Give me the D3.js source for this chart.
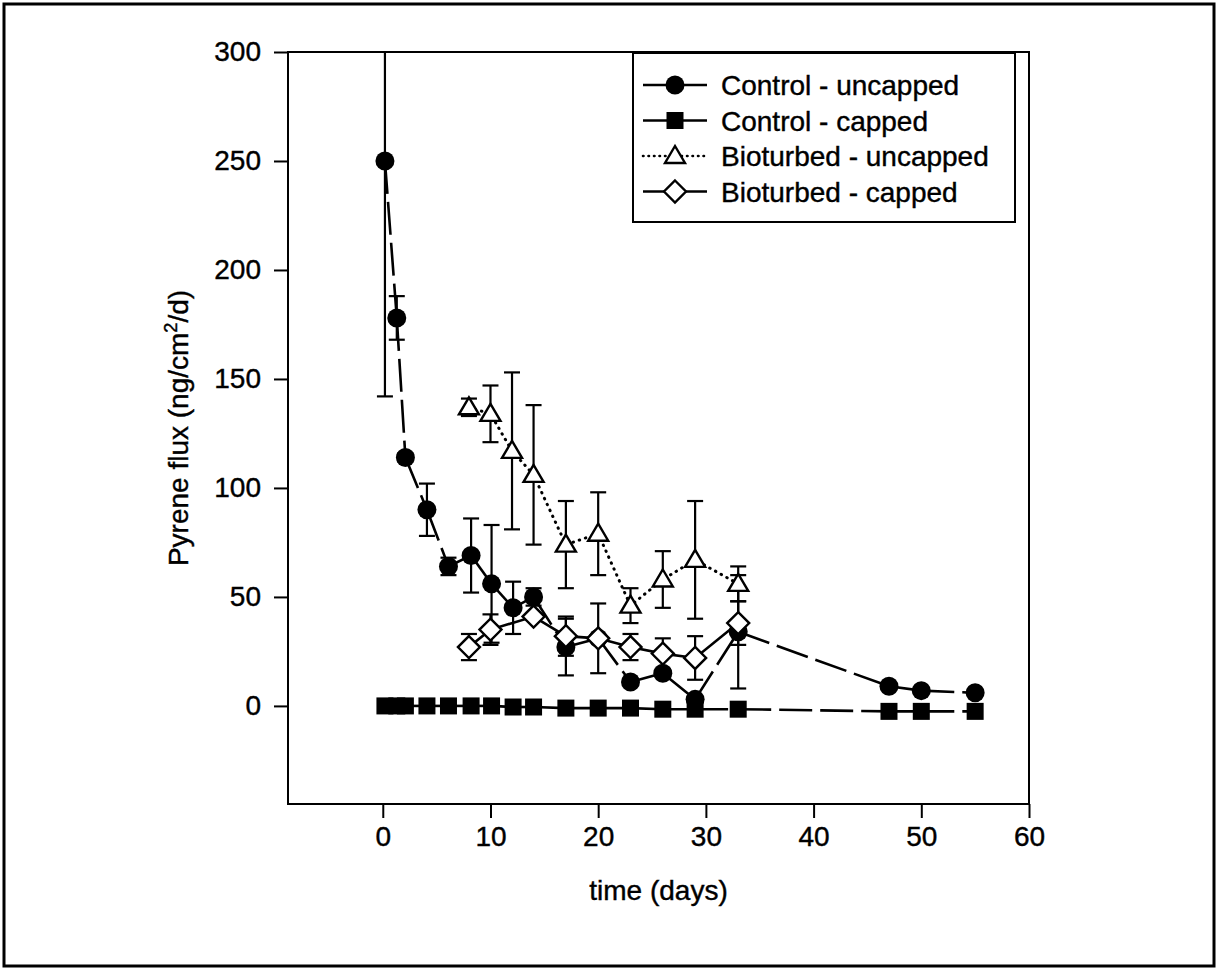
<!DOCTYPE html>
<html>
<head>
<meta charset="utf-8">
<script src="https://cdn.jsdelivr.net/npm/d3@7"></script>
<style>
  body { margin: 0; background: #fff; }
  svg { display: block; }
  text { font-family: "Liberation Sans", Arial, sans-serif; fill: #000; }
</style>
</head>
<body>
<svg id="chart" width="1219" height="972"></svg>
<script>
// Data
const ctrlUncapDays = [0.2, 1.3, 2.1, 4.1, 6.1, 8.2, 10.1, 12.1, 14, 17, 20, 23, 26, 29, 33, 47, 50, 55];
const ctrlUncapFlux = [250, 178, 114, 90, 64, 69, 56, 45, 50, 27, 31, 11, 15, 3, 34, 9, 7, 6];
const ctrlUncapErr = [108, 10, 2, 12, 4, 17, 27, 12, 4, 13, 16, 0, 0, 0, 26, 0, 0, 0];

const ctrlCapDays = [0.2, 1.3, 2.1, 4.1, 6.1, 8.2, 10.1, 12.1, 14, 17, 20, 23, 26, 29, 33, 47, 50, 55];
const ctrlCapFlux = [0, 0, 0, 0, 0, 0, 0, -0.5, -0.5, -1, -1, -1, -1.5, -1.5, -1.5, -2.5, -2.5, -2.5];

const bioUncapDays = [8, 10, 12, 14, 17, 20, 23, 26, 29, 33];
const bioUncapFlux = [137, 134, 117, 106, 74, 79, 46, 58, 67, 56];
const bioUncapErr = [4, 13, 36, 32, 20, 19, 8, 13, 27, 8];

const bioCapDays = [8, 10, 14, 17, 20, 23, 26, 29, 33];
const bioCapFlux = [27, 35, 41, 32, 31, 27, 24, 22, 38];
const bioCapErr = [6, 7, 0, 9, 0, 6, 7, 10, 10];

const xTicks = [0, 10, 20, 30, 40, 50, 60];
const yTicks = [0, 50, 100, 150, 200, 250, 300];
const legendLabels = ["Control - uncapped", "Control - capped", "Bioturbed - uncapped", "Bioturbed - capped"];

// Layout
let frame = { left: 288, right: 1029, top: 52, bottom: 804 },
  fontSize = 28,
  tickLen = 14,
  lineWidth = 2.2;

const svg = d3.select("#chart");

// outer border of the scanned page
svg.append("rect")
  .attr("x", 4).attr("y", 4)
  .attr("width", 1210).attr("height", 962)
  .attr("fill", "none").attr("stroke", "#000").attr("stroke-width", 3);

const x = d3.scaleLinear().domain([-8.8, 60]).range([frame.left, frame.right]);
const y = d3.scaleLinear().domain([-45, 300]).range([frame.bottom, frame.top]);

// clip so the big error bar stops at the frame
svg.append("clipPath").attr("id", "plotClip")
  .append("rect")
  .attr("x", frame.left).attr("y", frame.top)
  .attr("width", frame.right - frame.left).attr("height", frame.bottom - frame.top);

// Axes
const xAxis = d3.axisBottom(x).tickValues(xTicks).tickSize(tickLen).tickPadding(8);
const yAxis = d3.axisLeft(y).tickValues(yTicks).tickSize(tickLen).tickPadding(13);

const gx = svg.append("g").attr("transform", "translate(0," + frame.bottom + ")").call(xAxis);
const gy = svg.append("g").attr("transform", "translate(" + frame.left + ",0)").call(yAxis);

[gx, gy].forEach(g => {
  g.select(".domain").remove();
  g.selectAll("line").attr("stroke", "#000").attr("stroke-width", 2);
  g.selectAll("text")
    .attr("font-size", fontSize)
    .attr("font-family", null)
    .attr("fill", "#000")
    .attr("stroke", "#000")
    .attr("stroke-width", 0.4);
});

// Frame box
svg.append("rect")
  .attr("x", frame.left).attr("y", frame.top)
  .attr("width", frame.right - frame.left).attr("height", frame.bottom - frame.top)
  .attr("fill", "none").attr("stroke", "#000").attr("stroke-width", 2);

// Axis titles
svg.append("text")
  .attr("x", (frame.left + frame.right) / 2)
  .attr("y", 900)
  .attr("text-anchor", "middle")
  .attr("font-size", fontSize)
  .attr("stroke", "#000").attr("stroke-width", 0.4)
  .text("time (days)");

const yTitle = svg.append("text")
  .attr("transform", "translate(188," + (frame.top + frame.bottom) / 2 + ") rotate(-90)")
  .attr("text-anchor", "middle")
  .attr("font-size", fontSize)
  .attr("stroke", "#000").attr("stroke-width", 0.4);
yTitle.append("tspan").text("Pyrene flux (ng/cm");
yTitle.append("tspan").attr("font-size", fontSize * 0.65).attr("dy", -11).text("2");
yTitle.append("tspan").attr("dy", 11).text("/d)");

const plot = svg.append("g").attr("clip-path", "url(#plotClip)");

// Marker shapes
function drawMarker(g, kind, cx, cy) {
  if (kind === "circle") {
    g.append("circle").attr("cx", cx).attr("cy", cy).attr("r", 9.5).attr("fill", "#000");
  } else if (kind === "square") {
    g.append("rect").attr("x", cx - 8.5).attr("y", cy - 8.5).attr("width", 17).attr("height", 17).attr("fill", "#000");
  } else if (kind === "triangle") {
    g.append("path")
      .attr("d", "M" + cx + "," + (cy - 10) + "L" + (cx + 10) + "," + (cy + 7) + "L" + (cx - 10) + "," + (cy + 7) + "Z")
      .attr("fill", "#fff").attr("stroke", "#000").attr("stroke-width", 2.4);
  } else if (kind === "diamond") {
    g.append("path")
      .attr("d", "M" + cx + "," + (cy - 11) + "L" + (cx + 11) + "," + cy + "L" + cx + "," + (cy + 11) + "L" + (cx - 11) + "," + cy + "Z")
      .attr("fill", "#fff").attr("stroke", "#000").attr("stroke-width", 2.4);
  }
}

const series = [
  { days: ctrlUncapDays, flux: ctrlUncapFlux, err: ctrlUncapErr, marker: "circle", dash: "33,8", perSegment: true },
  { days: ctrlCapDays, flux: ctrlCapFlux, err: null, marker: "square", dash: "33,8", perSegment: true },
  { days: bioUncapDays, flux: bioUncapFlux, err: bioUncapErr, marker: "triangle", dash: "0.5,6", perSegment: false },
  { days: bioCapDays, flux: bioCapFlux, err: bioCapErr, marker: "diamond", dash: null, perSegment: false }
];

const line = d3.line().x(d => x(d[0])).y(d => y(d[1]));

series.forEach(s => {
  const g = plot.append("g");
  const pts = s.days.map((d, i) => [d, s.flux[i]]);

  // connecting line; dashed series restart the pattern on each segment
  if (s.perSegment) {
    for (let i = 1; i < pts.length; i++) {
      g.append("path")
        .attr("d", line([pts[i - 1], pts[i]]))
        .attr("fill", "none").attr("stroke", "#000")
        .attr("stroke-width", 2.6)
        .attr("stroke-dasharray", s.dash);
    }
  } else {
    g.append("path")
      .attr("d", line(pts))
      .attr("fill", "none").attr("stroke", "#000")
      .attr("stroke-width", s.dash ? 3 : 2.6)
      .attr("stroke-linecap", s.dash ? "round" : "butt")
      .attr("stroke-dasharray", s.dash);
  }

  // error bars with caps
  if (s.err) {
    pts.forEach((p, i) => {
      const e = s.err[i];
      if (!e) return;
      const cx = x(p[0]);
      [p[1] + e, p[1] - e].forEach(v => {
        g.append("line")
          .attr("x1", cx).attr("x2", cx)
          .attr("y1", y(p[1])).attr("y2", y(v))
          .attr("stroke", "#000").attr("stroke-width", lineWidth);
        g.append("line")
          .attr("x1", cx - 8).attr("x2", cx + 8)
          .attr("y1", y(v)).attr("y2", y(v))
          .attr("stroke", "#000").attr("stroke-width", lineWidth);
      });
    });
  }

  pts.forEach(p => drawMarker(g, s.marker, x(p[0]), y(p[1])));
});

// Legend
let legend = { left: 633, top: 53, width: 382, height: 169, rowStart: 85, rowGap: 35.5 };

svg.append("rect")
  .attr("x", legend.left).attr("y", legend.top)
  .attr("width", legend.width).attr("height", legend.height)
  .attr("fill", "#fff").attr("stroke", "#000").attr("stroke-width", 2);

series.forEach((s, i) => {
  const ly = legend.rowStart + i * legend.rowGap;
  const g = svg.append("g");
  g.append("line")
    .attr("x1", legend.left + 10).attr("x2", legend.left + 74)
    .attr("y1", ly).attr("y2", ly)
    .attr("stroke", "#000")
    .attr("stroke-width", s.marker === "triangle" ? 2.6 : 2.4)
    .attr("stroke-linecap", s.marker === "triangle" ? "round" : "butt")
    .attr("stroke-dasharray", s.marker === "triangle" ? "0.5,5" : null);
  drawMarker(g, s.marker, legend.left + 42, ly);
  g.append("text")
    .attr("x", legend.left + 88)
    .attr("y", ly + 10)
    .attr("font-size", fontSize)
    .attr("stroke", "#000").attr("stroke-width", 0.4)
    .text(legendLabels[i]);
});
</script>
</body>
</html>
